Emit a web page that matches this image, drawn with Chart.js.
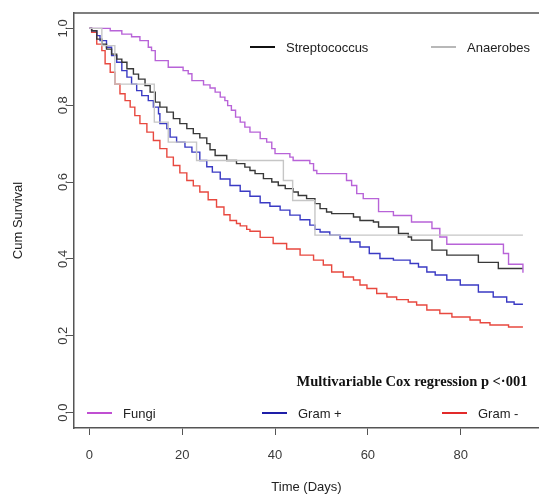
<!DOCTYPE html>
<html>
<head>
<meta charset="utf-8">
<title>Cum Survival</title>
<script src="https://cdn.jsdelivr.net/npm/chart.js@4.4.1/dist/chart.umd.min.js"></script>
<style>
  html, body { margin: 0; padding: 0; background: #fff; }
  #wrap { width: 539px; height: 495px; }
</style>
</head>
<body>
<div id="wrap"><canvas id="survChart" width="539" height="495"></canvas></div>
<script>
// Kaplan-Meier steps: day of the drop and survival after it
var fungiDays = [0, 4.5, 7.0, 9.1, 10.9, 12.7, 13.4, 14.2, 17.0, 20.2, 21.3, 22.1, 24.6, 26.0, 27.1, 28.2, 29.2, 29.8, 30.6, 31.5, 32.5, 33.5, 34.6, 36.8, 38.2, 39.3, 40.0, 43.2, 43.9, 47.5, 48.3, 49.0, 55.4, 56.5, 57.6, 59.0, 62.3, 65.5, 69.4, 73.8, 75.5, 77.0, 89.2, 90.3, 93.4];
var fungiSurv = [1.0, 0.994, 0.985, 0.978, 0.968, 0.951, 0.942, 0.916, 0.899, 0.890, 0.882, 0.864, 0.853, 0.845, 0.834, 0.821, 0.812, 0.799, 0.787, 0.769, 0.756, 0.743, 0.730, 0.713, 0.704, 0.687, 0.674, 0.665, 0.656, 0.648, 0.630, 0.622, 0.604, 0.591, 0.570, 0.557, 0.523, 0.513, 0.496, 0.479, 0.457, 0.438, 0.414, 0.386, 0.364];

var streptoDays = [0, 0.5, 1.6, 2.7, 3.7, 4.8, 5.9, 7.0, 8.1, 9.5, 10.6, 12.0, 13.1, 14.2, 15.2, 16.7, 18.1, 19.5, 21.0, 22.4, 23.8, 25.3, 26.0, 27.1, 29.6, 31.7, 33.5, 34.6, 35.7, 37.5, 39.3, 40.7, 42.2, 43.9, 45.0, 46.8, 48.6, 49.7, 51.1, 52.2, 56.9, 58.3, 61.2, 62.3, 66.6, 68.7, 69.4, 73.8, 77.0, 83.8, 88.1, 93.4];
var streptoSurv = [1.0, 0.994, 0.972, 0.959, 0.946, 0.933, 0.920, 0.912, 0.895, 0.881, 0.868, 0.851, 0.834, 0.808, 0.795, 0.782, 0.765, 0.752, 0.739, 0.726, 0.715, 0.700, 0.684, 0.669, 0.656, 0.648, 0.639, 0.630, 0.622, 0.609, 0.600, 0.591, 0.583, 0.574, 0.565, 0.557, 0.544, 0.531, 0.522, 0.518, 0.509, 0.500, 0.496, 0.483, 0.466, 0.457, 0.449, 0.423, 0.410, 0.391, 0.375, 0.375];

var anaerobeDays = [0, 2.7, 5.5, 14.0, 17.0, 23.1, 41.8, 43.8, 48.6, 93.4];
var anaerobeSurv = [1.0, 0.955, 0.855, 0.756, 0.704, 0.656, 0.604, 0.552, 0.462, 0.462];

var gramPosDays = [0, 0.5, 1.6, 2.3, 3.7, 4.8, 5.9, 7.0, 8.1, 9.1, 10.2, 11.3, 12.7, 13.8, 14.9, 15.2, 16.7, 17.4, 18.8, 20.6, 22.1, 23.8, 25.3, 26.5, 28.2, 30.3, 32.5, 34.6, 36.8, 38.9, 41.1, 43.2, 45.4, 47.5, 48.6, 49.7, 51.8, 54.0, 56.2, 58.3, 60.3, 62.6, 65.5, 69.1, 70.9, 72.7, 74.5, 77.0, 79.9, 83.8, 87.0, 89.9, 91.5, 93.4];
var gramPosSurv = [1.0, 0.994, 0.981, 0.968, 0.951, 0.929, 0.912, 0.890, 0.873, 0.855, 0.838, 0.825, 0.812, 0.795, 0.778, 0.752, 0.739, 0.717, 0.704, 0.691, 0.678, 0.656, 0.640, 0.626, 0.608, 0.591, 0.576, 0.563, 0.546, 0.537, 0.527, 0.514, 0.502, 0.488, 0.477, 0.470, 0.462, 0.453, 0.444, 0.431, 0.414, 0.401, 0.397, 0.388, 0.379, 0.366, 0.358, 0.345, 0.332, 0.314, 0.301, 0.288, 0.282, 0.282];

var gramNegDays = [0, 0.5, 1.6, 2.7, 3.4, 4.5, 5.5, 6.6, 7.7, 8.8, 9.8, 10.9, 12.4, 13.8, 15.2, 16.7, 18.1, 19.5, 21.0, 22.4, 23.8, 25.6, 27.4, 29.0, 30.3, 31.7, 32.5, 33.9, 34.6, 36.8, 39.6, 42.5, 45.4, 48.3, 50.4, 52.2, 54.7, 56.9, 58.3, 59.8, 61.9, 64.1, 66.2, 68.7, 70.5, 72.7, 75.5, 78.1, 82.0, 84.2, 86.3, 90.3, 93.4];
var gramNegSurv = [1.0, 0.990, 0.959, 0.942, 0.908, 0.886, 0.855, 0.830, 0.812, 0.795, 0.773, 0.752, 0.730, 0.708, 0.687, 0.665, 0.643, 0.624, 0.604, 0.590, 0.574, 0.554, 0.535, 0.515, 0.500, 0.492, 0.486, 0.477, 0.472, 0.456, 0.440, 0.426, 0.410, 0.397, 0.384, 0.366, 0.353, 0.345, 0.332, 0.323, 0.310, 0.301, 0.294, 0.288, 0.280, 0.267, 0.258, 0.249, 0.241, 0.234, 0.228, 0.223, 0.223];

var groupNames = ['Anaerobes', 'Fungi', 'Streptococcus', 'Gram +', 'Gram -'];
var xTicks = [0, 20, 40, 60, 80];
var yTicks = [0, 0.2, 0.4, 0.6, 0.8, 1.0];
var coxNote = 'Multivariable Cox regression p <\u00b7001';

function toPoints(days, surv) {
    return days.map(function(d, i) { return { x: d, y: surv[i] }; });
}

var axisColor = '#555555';
var textColor = '#3a3a3a';

// top edge of the box (left and bottom come from the axes)
var boxTop = {
    id: 'boxTop',
    afterDraw: function(chart) {
        var a = chart.chartArea, ctx = chart.ctx;
        ctx.save();
        ctx.strokeStyle = axisColor;
        ctx.lineWidth = 1.5;
        ctx.beginPath();
        ctx.moveTo(a.left, a.top);
        ctx.lineTo(a.right + 2, a.top);
        ctx.stroke();
        ctx.restore();
    }
};

// legend entries sit inside the plot, as in the figure
var legendSpots = {
    'Streptococcus': [250, 47],
    'Anaerobes': [431, 47],
    'Fungi': [87, 413],
    'Gram +': [262, 413],
    'Gram -': [442, 413]
};
var legendColors = {
    'Streptococcus': '#111111',
    'Anaerobes': '#b8b8b8',
    'Fungi': '#c04fd2',
    'Gram +': '#1e1ea8',
    'Gram -': '#e22a2a'
};

var insideLegend = {
    id: 'insideLegend',
    afterDraw: function(chart) {
        var ctx = chart.ctx;
        ctx.save();
        ctx.font = "13px 'Liberation Sans', Arial, sans-serif";
        ctx.textBaseline = 'middle';
        ctx.textAlign = 'left';
        chart.data.datasets.forEach(function(ds) {
            var spot = legendSpots[ds.label];
            ctx.strokeStyle = legendColors[ds.label];
            ctx.lineWidth = 2;
            ctx.beginPath();
            ctx.moveTo(spot[0], spot[1]);
            ctx.lineTo(spot[0] + 25, spot[1]);
            ctx.stroke();
            ctx.fillStyle = '#222222';
            ctx.fillText(ds.label, spot[0] + 36, spot[1] + 1);
        });
        // regression note
        ctx.font = "bold 14.5px 'Liberation Serif', 'Times New Roman', serif";
        ctx.fillStyle = '#111111';
        ctx.textAlign = 'center';
        ctx.fillText(coxNote, 412, 382);
        ctx.restore();
    }
};

var ctx = document.getElementById('survChart').getContext('2d');
var survChart = new Chart(ctx, {
    type: 'line',
    data: {
        datasets: [
            { label: groupNames[0], data: toPoints(anaerobeDays, anaerobeSurv), borderColor: '#c6c6c6' },
            { label: groupNames[1], data: toPoints(fungiDays, fungiSurv), borderColor: '#b863d8' },
            { label: groupNames[2], data: toPoints(streptoDays, streptoSurv), borderColor: '#383838' },
            { label: groupNames[3], data: toPoints(gramPosDays, gramPosSurv), borderColor: '#3a3ac4' },
            { label: groupNames[4], data: toPoints(gramNegDays, gramNegSurv), borderColor: '#e8483f' }
        ]
    },
    options: {
        responsive: false,
        animation: false,
        devicePixelRatio: 1,
        layout: { padding: { top: 13, right: 0, left: 0, bottom: 0 } },
        elements: {
            line: { borderWidth: 1.4, stepped: true, tension: 0, fill: false },
            point: { radius: 0 }
        },
        plugins: {
            legend: { display: false },
            tooltip: { enabled: false }
        },
        scales: {
            x: {
                type: 'linear',
                min: -3.3,
                max: 96.86,
                afterBuildTicks: function(scale) {
                    scale.ticks = xTicks.map(function(v) { return { value: v }; });
                },
                afterFit: function(scale) { scale.height = 67; },
                ticks: {
                    color: textColor,
                    font: { size: 13, family: "'Liberation Sans', Arial, sans-serif" },
                    padding: 13,
                    maxRotation: 0,
                    autoSkip: false
                },
                grid: { drawOnChartArea: false, drawTicks: true, tickLength: 7, color: axisColor, lineWidth: 1 },
                border: { display: true, color: axisColor, width: 1.5 },
                title: {
                    display: true,
                    text: 'Time (Days)',
                    color: '#222222',
                    font: { size: 13, family: "'Liberation Sans', Arial, sans-serif" },
                    padding: { top: 0, bottom: 0 }
                }
            },
            y: {
                type: 'linear',
                min: -0.04,
                max: 1.04,
                afterBuildTicks: function(scale) {
                    scale.ticks = yTicks.map(function(v) { return { value: v }; });
                },
                afterFit: function(scale) { scale.width = 74; },
                ticks: {
                    color: textColor,
                    font: { size: 13, family: "'Liberation Sans', Arial, sans-serif" },
                    minRotation: 90,
                    maxRotation: 90,
                    crossAlign: 'center',
                    padding: -5,
                    autoSkip: false,
                    callback: function(v) { return Number(v).toFixed(1); }
                },
                grid: { drawOnChartArea: false, drawTicks: true, tickLength: 7, color: axisColor, lineWidth: 1 },
                border: { display: true, color: axisColor, width: 1.5 },
                title: {
                    display: true,
                    text: 'Cum Survival',
                    color: '#222222',
                    font: { size: 13, family: "'Liberation Sans', Arial, sans-serif" },
                    padding: { top: 11, bottom: 0 }
                }
            }
        }
    },
    plugins: [boxTop, insideLegend]
});
</script>
</body>
</html>
